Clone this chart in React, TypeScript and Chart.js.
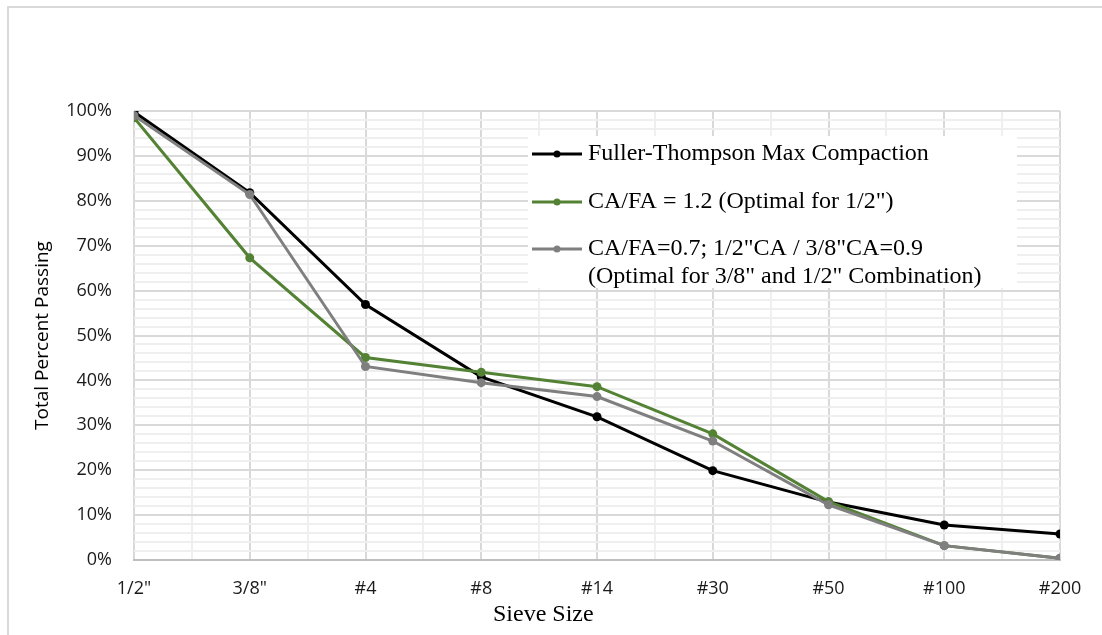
import React, { useEffect, useRef } from "react";
import { Chart, registerables } from "chart.js";

Chart.register(...registerables);

const categories = ['1/2"', '3/8"', "#4", "#8", "#14", "#30", "#50", "#100", "#200"];
const fullerThompson = [99.8, 81.8, 56.9, 40.8, 31.9, 19.9, 12.9, 7.8, 5.8];
const caFa12 = [98.5, 67.3, 45.1, 41.8, 38.6, 28.1, 13.0, 3.2, 0.4];
const caFa07 = [99.0, 81.4, 43.1, 39.5, 36.4, 26.5, 12.3, 3.2, 0.4];
const seriesLabels = [
  ["Fuller-Thompson Max Compaction"],
  ['CA/FA = 1.2 (Optimal for 1/2")'],
  ['CA/FA=0.7; 1/2"CA / 3/8"CA=0.9', '(Optimal for 3/8" and 1/2" Combination)'],
];
const seriesColors = ["#000000", "#548235", "#7f7f7f"];
const yTickValues = [0, 10, 20, 30, 40, 50, 60, 70, 80, 90, 100];
const xTitle = "Sieve Size";
const yTitle = "Total Percent Passing";

const MAJOR = "#d9d9d9";
const MINOR = "#efefef";

const overlayPlugin = {
  id: "overlay",
  afterDatasetsDraw(chart: any) {
    const { ctx, chartArea } = chart;
    const L = chartArea.left;
    const T = chartArea.top;
    ctx.save();
    // legend box
    ctx.fillStyle = "#ffffff";
    ctx.fillRect(L + 394, T + 25, 489, 152);
    const rows = [T + 43, T + 91, T + 138];
    const lineH = 28;
    ctx.font = '24px "Liberation Serif", "Times New Roman", serif';
    ctx.textBaseline = "middle";
    ctx.textAlign = "left";
    chart.data.datasets.forEach((ds: any, i: number) => {
      const y = rows[i];
      ctx.strokeStyle = ds.borderColor;
      ctx.lineWidth = 3;
      ctx.beginPath();
      ctx.moveTo(L + 398, y);
      ctx.lineTo(L + 448, y);
      ctx.stroke();
      ctx.fillStyle = ds.borderColor;
      ctx.beginPath();
      ctx.arc(L + 423, y, 3.5, 0, Math.PI * 2);
      ctx.fill();
      ctx.fillStyle = "#000000";
      seriesLabels[i].forEach((t, k) => {
        ctx.fillText(t, L + 454, y + k * lineH);
      });
    });
    // x axis title
    ctx.font = '24px "Liberation Serif", "Times New Roman", serif';
    ctx.textAlign = "center";
    ctx.fillStyle = "#000000";
    ctx.fillText(xTitle, L + chartArea.width * 0.442, chartArea.bottom + 55);
    ctx.restore();
  },
};

export default function App() {
  const canvasRef = useRef<HTMLCanvasElement | null>(null);

  useEffect(() => {
    if (!canvasRef.current) return;
    const mk = (vals: number[]) => vals.map((v, i) => ({ x: i, y: v }));
    const chart = new Chart(canvasRef.current, {
      type: "line",
      data: {
        datasets: [
          {
            label: seriesLabels[0].join(" "),
            data: mk(fullerThompson),
            borderColor: seriesColors[0],
            backgroundColor: seriesColors[0],
            borderWidth: 3,
            pointRadius: 4.5,
            pointBorderWidth: 0,
            order: 2,
          },
          {
            label: seriesLabels[1].join(" "),
            data: mk(caFa12),
            borderColor: seriesColors[1],
            backgroundColor: seriesColors[1],
            borderWidth: 3,
            pointRadius: 4.5,
            pointBorderWidth: 0,
            order: 1,
          },
          {
            label: seriesLabels[2].join(" "),
            data: mk(caFa07),
            borderColor: seriesColors[2],
            backgroundColor: seriesColors[2],
            borderWidth: 3,
            pointRadius: 4.5,
            pointBorderWidth: 0,
            order: 0,
          },
        ],
      },
      options: {
        animation: false,
        responsive: false,
        maintainAspectRatio: false,
        layout: { padding: { top: 103, right: 33, left: 0, bottom: 0 } },
        plugins: {
          legend: { display: false },
          tooltip: { enabled: false },
        },
        scales: {
          x: {
            type: "linear",
            min: 0,
            max: categories.length - 1,
            afterFit: (s: any) => {
              s.height = 75;
              s.paddingLeft = 0;
              s.paddingRight = 0;
            },
            afterBuildTicks: (s: any) => {
              const t = [];
              for (let v = 0; v <= categories.length - 1; v += 0.5) t.push({ value: v });
              s.ticks = t;
            },
            ticks: {
              autoSkip: false,
              maxRotation: 0,
              padding: 18,
              color: "#1a1a1a",
              font: { family: '"Open Sans", sans-serif', size: 18 },
              callback: (v: any) => (Number.isInteger(v) ? categories[v] : ""),
            },
            grid: {
              drawTicks: false,
              lineWidth: 2,
              color: (c: any) => (c.tick && Number.isInteger(c.tick.value) ? MAJOR : MINOR),
            },
            border: { display: true, color: "#bfbfbf", width: 2 },
          },
          y: {
            type: "linear",
            min: 0,
            max: 100,
            afterFit: (s: any) => {
              s.width = 125;
              s.paddingTop = 0;
              s.paddingBottom = 0;
            },
            afterBuildTicks: (s: any) => {
              const t = [];
              for (let v = 0; v <= 100; v += 2) t.push({ value: v });
              s.ticks = t;
            },
            ticks: {
              autoSkip: false,
              padding: 22,
              color: "#1a1a1a",
              font: { family: '"Open Sans", sans-serif', size: 18 },
              callback: (v: any) => (yTickValues.includes(v) ? v + "%" : ""),
            },
            grid: {
              drawTicks: false,
              lineWidth: 2,
              color: (c: any) => (c.tick && c.tick.value % 10 === 0 ? MAJOR : MINOR),
            },
            border: { display: false },
            title: {
              display: true,
              text: yTitle,
              color: "#000000",
              font: { family: '"Open Sans", sans-serif', size: 19 },
              padding: { top: 22, bottom: 0 },
            },
          },
        },
      },
      plugins: [overlayPlugin],
    });
    return () => chart.destroy();
  }, []);

  return (
    <div
      style={{
        position: "fixed",
        top: 6,
        left: 7,
        width: 1093,
        height: 629,
        borderTop: "2px solid #d9d9d9",
        borderLeft: "2px solid #d9d9d9",
        background: "#ffffff",
        overflow: "hidden",
      }}
    >
      <canvas ref={canvasRef} width={1084} height={627} style={{ display: "block" }} />
    </div>
  );
}
